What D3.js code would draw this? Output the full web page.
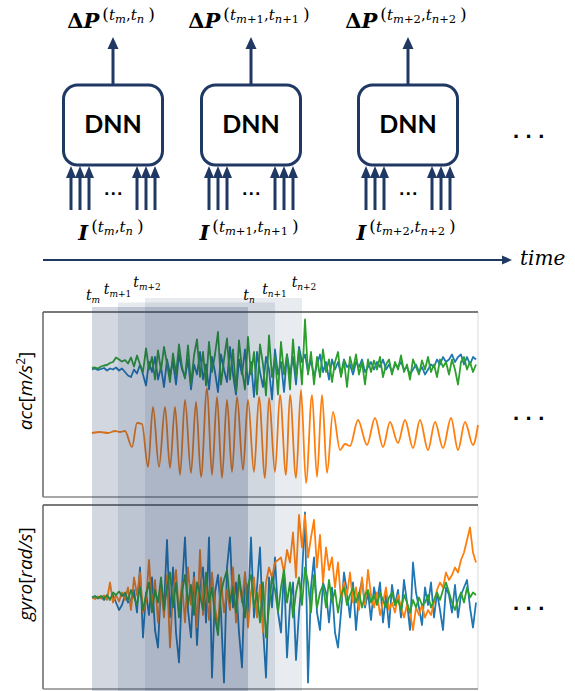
<!DOCTYPE html>
<html>
<head>
<meta charset="utf-8">
<script src="https://cdn.jsdelivr.net/npm/d3@7/dist/d3.min.js"></script>
<style>
  body { margin: 0; background: #fff; }
  svg { display: block; }
</style>
</head>
<body>
<svg id="fig" width="575" height="691"></svg>
<script>
// ---------- data ----------
// sliding windows (t_{m+k}, t_{n+k}), in sample indices
const windowShift = [0, 1, 2];
const windowStart = [0, 26, 53];
const windowEnd = [156, 183, 210];
const bandOpacity = [0.2, 0.11, 0.1];

const sampleStep = 3; // samples of the noisy traces are 3 indices apart

// accelerometer [m/s^2]
const accBlue = [7.0,7.2,6.9,7.1,7.3,6.8,7.2,7.0,7.4,6.8, 7.2,6.5,5.8,5.5,7.0,6.2,8.0,6.0,3.8,8.5,
  6.5,9.5,5.0,7.5,3.5,9.0,6.0,8.5,4.0,10.0, 7.0,5.5,9.0,3.0,8.0,6.0,10.5,5.0,8.0,3.0,
  9.5,6.5,2.5,10.0,7.0,4.5,11.5,6.0,2.0,9.0, 6.0,11.0,4.0,8.5,1.5,10.5,6.5,3.5,9.5,7.0,
  1.0,11.0,6.0,8.5,2.5,10.0,6.0,9.5,4.0,11.5, 8.5,10.0,6.5,9.0,5.5,8.0,10.0,6.5,8.5,5.0,
  9.0,7.0,8.5,6.0,9.0,7.5,8.0,6.0,8.5,7.5, 9.0,6.5,7.5,8.5,7.0,8.5,7.5,9.0,7.0,8.0,
  6.5,8.0,7.5,8.5,7.0,7.5,6.0,7.0,8.0,6.5, 7.5,6.0,7.0,8.0,7.5,9.0,8.0,9.5,8.5,9.0,
  10.0,8.5,9.5,10.0,8.0,9.5,8.0,9.5,9.0];
const accGreen = [7.3,7.4,7.2,7.6,7.8,7.9,8.3,8.5,9.4,9.0, 8.6,8.9,8.2,9.4,7.6,9.8,8.0,6.5,11.2,7.0,
  9.5,5.0,10.8,6.8,11.5,8.2,4.5,10.2,6.0,12.0, 7.5,5.2,11.8,4.0,9.8,13.0,5.5,10.5,3.8,12.5,
  6.5,10.0,14.5,4.0,9.0,13.2,5.0,11.0,2.5,12.8, 7.0,3.0,13.5,6.0,10.5,2.0,12.0,8.0,1.8,13.8,
  5.5,9.5,2.0,12.5,6.0,10.0,3.0,13.0,5.5,11.0, 4.0,17.0,6.0,10.5,4.0,9.5,5.5,11.0,6.5,9.0,
  4.5,8.5,10.5,5.5,8.8,3.5,9.5,7.0,10.0,6.0, 8.5,4.0,9.0,6.5,8.8,7.0,9.5,5.5,8.0,9.0,
  6.0,8.5,7.0,9.8,6.5,8.0,5.0,9.0,7.5,6.0, 8.8,7.0,9.5,6.5,8.0,5.5,9.0,7.5,8.5,6.0,
  9.0,7.0,4.0,8.5,9.5,7.0,8.5,6.5,8.0];
// orange acc trace given by its turning points (sample index, value)
const accOrangeT = [0,8,16,23,28,33,40,45,50,56,61,67,73,78,83,88,93,99,104,109,115,120,125,130,135,
  140,145,151,156,162,167,173,177,183,188,194,198,204,209,214,220,225,230,235,241,248,253,258,266,
  275,283,291,298,306,313,321,328,336,343,351,359,366,373,381,386];
const accOrangeV = [-5.7,-5.5,-5.7,-5.3,-5.5,-5.3,-8.5,-3.7,-3.9,-12.5,-0.5,-12.5,-0.5,-12.7,-0.5,
  -14.1,0.9,-13.7,0.5,-14.5,3.3,-14.1,1.5,-14.7,0.9,-13.5,1.5,-13.1,0.9,-13.5,1.5,-14.7,1.3,-13.5,
  1.9,-14.1,1.9,-14.7,2.9,-15.7,1.9,-14.5,1.9,-13.7,-1.5,-9.1,-7.9,-8.3,-3.1,-8.1,-2.7,-8.5,-3.5,
  -7.7,-3.1,-8.7,-3.1,-9.1,-3.5,-8.7,-2.7,-9.1,-3.5,-8.1,-4.1];

// gyroscope [rad/s]
const gyroBlue = [0.0,0.3,-0.2,0.2,-0.5,0.4,-0.3,0.5,-1.0,-2.5, -1.5,0.5,-1.0,-0.5,1.5,-3.0,6.0,-8.0,1.0,-3.5,
  4.0,-6.5,-10.0,3.0,-2.0,11.5,-4.0,6.0,-7.0,-13.0, 2.0,12.0,-2.5,-8.0,5.0,-9.5,2.0,6.0,-5.0,12.0,
  -16.0,1.0,4.5,-3.0,-17.0,6.0,12.0,-2.0,3.0,-7.0, -14.0,5.0,-3.0,12.0,-4.0,2.0,10.0,-6.0,-16.0,4.0,
  -2.0,8.0,-3.0,-7.0,6.0,-12.0,-1.5,3.0,-12.5,-3.0, 4.0,17.0,-17.0,2.0,8.0,-3.0,-6.5,3.0,1.0,-5.0,
  2.0,-7.0,-10.0,-3.0,5.0,1.0,-4.0,3.0,-6.5,0.5, 3.5,-2.0,1.0,-4.5,2.0,-1.0,3.0,-5.0,0.5,-6.0,
  2.5,-1.5,1.5,-4.0,3.5,-1.0,-6.5,7.0,1.0,-2.0, -5.5,2.0,-1.5,3.0,-4.0,1.0,-2.5,-6.5,2.0,0.5,
  -3.0,2.5,-4.0,0.5,2.0,3.5,-2.0,-6.0,-1.0];
const gyroOrange = [0.0,-0.3,0.2,-0.2,0.4,-0.5,3.0,-1.0,0.5,-0.8, 1.0,-0.5,2.0,-2.5,4.0,0.5,5.0,-3.0,-1.0,7.5,
  -2.0,3.5,-5.0,2.0,-4.0,4.5,-10.0,1.0,5.5,-3.0, 3.0,-5.0,6.0,-1.5,4.0,-6.0,9.5,-3.5,2.5,-4.5,
  5.0,-2.0,-6.0,4.0,-3.0,1.5,-2.5,6.0,-5.0,3.5, -1.0,5.0,-6.0,1.0,4.0,-4.0,2.5,-7.0,3.0,6.0,
  4.0,7.0,7.5,8.0,5.0,9.5,7.0,13.0,4.0,16.5, 10.0,16.5,8.0,12.0,15.5,6.0,12.5,3.0,10.0,5.5,
  8.0,2.0,7.0,-0.5,3.0,0.5,5.0,-1.0,2.0,-2.5, 4.0,-1.5,5.5,0.5,-2.0,1.0,-3.5,-1.0,2.0,-2.5,
  -1.0,-3.0,0.5,-2.0,-4.0,-1.5,-3.0,-6.5,-2.0,-3.5, -1.5,-4.0,-2.5,-3.5,-1.0,1.5,3.0,2.0,5.0,3.5,
  4.5,6.0,5.0,7.5,9.0,11.5,14.0,9.0,7.0];
const gyroGreen = [0.0,0.2,-0.1,0.3,-0.2,0.5,-0.5,1.0,0.5,1.2, 0.3,1.0,-0.5,1.5,0.0,-1.5,2.0,-2.5,0.5,3.0,
  -3.0,1.5,-1.0,4.0,-2.5,2.0,5.0,-2.0,3.0,-4.0, 1.0,4.5,-1.5,2.5,-3.5,3.0,0.5,-2.5,5.0,-1.0,
  2.0,-4.0,-7.5,1.0,3.5,5.5,-1.0,2.0,-3.0,4.5, 0.0,-4.0,2.5,4.5,-2.0,1.0,-5.0,3.0,-8.0,-2.0,
  4.0,1.5,-3.0,2.0,5.5,-1.0,3.0,-4.0,1.0,4.0, -1.5,6.0,3.0,-3.0,4.5,-2.0,1.0,2.5,-2.0,3.5,
  -1.0,1.5,-3.0,0.5,2.0,-1.5,0.5,2.0,-1.0,1.0, -2.0,0.5,1.5,-1.0,0.5,-1.5,1.0,-0.5,-2.0,0.0,
  1.0,-1.5,-0.5,-2.5,0.5,-1.0,-3.0,-0.5,-2.0,0.0, -1.5,-1.0,0.5,-2.0,-0.5,1.0,-0.5,1.5,3.0,1.0,
  -1.0,-2.5,-0.5,1.0,-1.0,2.0,0.0,1.0,0.5];

// ---------- layout ----------
const svg = d3.select("#fig");
const navy = "#1f3864";
const serif = "'DejaVu Serif', serif";
const colors = { blue: "#1f77b4", orange: "#ff7f0e", green: "#2ca02c" };

const boxCentre = [113, 251, 408];
const boxW = 99, boxTop = 85, boxH = 80;

const panel = { left: 43, right: 478 };
const accPanel = { top: 312, bottom: 497 };
const gyroPanel = { top: 505, bottom: 689 };

const x = d3.scaleLinear().domain([0, 386]).range([92, 478]);
const yAcc = d3.scaleLinear().domain([-18.5, 18.5]).range([accPanel.bottom, accPanel.top]);
const yGyro = d3.scaleLinear().domain([-18.5, 18.5]).range([690, 505]);

// ---------- top: DNN windows ----------
function superscript(t, k) {
  const sub = (letter) => {
    t.append("tspan").attr("font-size", 15).attr("font-style", "italic").text("t");
    t.append("tspan").attr("font-size", 11.5).attr("font-style", "italic").attr("dy", 3).text(letter);
    if (k > 0) t.append("tspan").attr("font-size", 11.5).text("+" + k);
  };
  t.append("tspan").attr("font-size", 17).attr("dx", 3).attr("dy", -8).text("(");
  sub("m");
  t.append("tspan").attr("font-size", 15).attr("dy", -3).text(",");
  sub("n");
  t.append("tspan").attr("font-size", 17).attr("dx", 4).attr("dy", -3).text(")");
}

const diagram = svg.append("g");
windowShift.forEach((k, i) => {
  const cx = boxCentre[i];
  diagram.append("rect")
    .attr("x", cx - boxW / 2).attr("y", boxTop)
    .attr("width", boxW).attr("height", boxH)
    .attr("rx", 14).attr("fill", "#fff")
    .attr("stroke", navy).attr("stroke-width", 3);
  diagram.append("text")
    .attr("x", cx).attr("y", boxTop + 48)
    .attr("text-anchor", "middle")
    .attr("font-family", "Lato, 'Liberation Sans', sans-serif")
    .attr("font-weight", "bold").attr("font-size", 25)
    .text("DNN");

  // output arrow
  diagram.append("line")
    .attr("x1", cx).attr("x2", cx).attr("y1", boxTop - 1).attr("y2", 47)
    .attr("stroke", navy).attr("stroke-width", 3);
  diagram.append("path")
    .attr("d", `M${cx},37L${cx - 5.5},49L${cx + 5.5},49Z`).attr("fill", navy);

  // input arrows
  [-42, -33, -24, 24, 33, 42].forEach(dx => {
    diagram.append("line")
      .attr("x1", cx + dx).attr("x2", cx + dx).attr("y1", 210).attr("y2", 176)
      .attr("stroke", navy).attr("stroke-width", 3);
    diagram.append("path")
      .attr("d", `M${cx + dx},166L${cx + dx - 5},178L${cx + dx + 5},178Z`).attr("fill", navy);
  });
  diagram.append("text")
    .attr("x", cx + 1).attr("y", 195).attr("text-anchor", "middle")
    .attr("font-family", "'Liberation Sans', sans-serif").attr("font-weight", "bold")
    .attr("font-size", 18).attr("letter-spacing", 1.5).text("...");

  // ΔP label
  const out = diagram.append("text")
    .attr("x", cx - 2).attr("y", 28).attr("text-anchor", "middle")
    .attr("font-family", serif);
  out.append("tspan").attr("font-size", 21).attr("font-weight", "bold").text("Δ");
  out.append("tspan").attr("font-size", 21).attr("font-weight", "bold").attr("font-style", "italic").text("P");
  superscript(out, k);

  // I label
  const inp = diagram.append("text")
    .attr("x", cx - 2).attr("y", 240).attr("text-anchor", "middle")
    .attr("font-family", serif);
  inp.append("tspan").attr("font-size", 21).attr("font-weight", "bold").attr("font-style", "italic").text("I");
  superscript(inp, k);
});

// "..." markers at the right
function ellipsis(cy) {
  svg.append("text")
    .attr("x", 513).attr("y", cy + 1.5)
    .attr("font-family", "'Liberation Sans', sans-serif").attr("font-weight", "bold")
    .attr("font-size", 22).attr("letter-spacing", 6.5).text("...");
}
ellipsis(136);
ellipsis(418);
ellipsis(608);

// time axis
svg.append("line").attr("x1", 43).attr("x2", 504).attr("y1", 260).attr("y2", 260)
  .attr("stroke", navy).attr("stroke-width", 2);
svg.append("path").attr("d", "M512,260L502,255.5L502,264.5Z").attr("fill", navy);
svg.append("text").attr("x", 520).attr("y", 265)
  .attr("font-family", serif).attr("font-style", "italic").attr("font-size", 20)
  .text("time");

// ---------- bottom: signal panels ----------
[accPanel, gyroPanel].forEach(p => {
  svg.append("line").attr("x1", panel.right).attr("x2", panel.right)
    .attr("y1", p.top).attr("y2", p.bottom).attr("stroke", "#d9d9d9").attr("stroke-width", 1);
  svg.append("line").attr("x1", panel.left).attr("x2", panel.right)
    .attr("y1", p.top).attr("y2", p.top).attr("stroke", "#7a7a7a").attr("stroke-width", 2);
  svg.append("line").attr("x1", panel.left).attr("x2", panel.left)
    .attr("y1", p.top).attr("y2", p.bottom).attr("stroke", "#666").attr("stroke-width", 1.5);
  svg.append("line").attr("x1", panel.left).attr("x2", panel.right)
    .attr("y1", p.bottom).attr("y2", p.bottom).attr("stroke", "#8a8a8a").attr("stroke-width", 1.5);
});

function trace(values, yScale, color) {
  const line = d3.line()
    .x((d, i) => x(i * sampleStep))
    .y(d => yScale(d));
  svg.append("path").datum(values)
    .attr("d", line).attr("fill", "none")
    .attr("stroke", color).attr("stroke-width", 1.8).attr("stroke-linejoin", "round");
}

trace(accBlue, yAcc, colors.blue);
svg.append("path")
  .datum(accOrangeT.map((t, i) => [t, accOrangeV[i]]))
  .attr("d", d3.line().x(d => x(d[0])).y(d => yAcc(d[1])).curve(d3.curveMonotoneX))
  .attr("fill", "none").attr("stroke", colors.orange).attr("stroke-width", 1.8);
trace(accGreen, yAcc, colors.green);

trace(gyroBlue, yGyro, colors.blue);
trace(gyroOrange, yGyro, colors.orange);
trace(gyroGreen, yGyro, colors.green);

// window bands (drawn over the traces)
windowShift.forEach((k, i) => {
  svg.append("rect")
    .attr("x", x(windowStart[i])).attr("width", x(windowEnd[i]) - x(windowStart[i]))
    .attr("y", accPanel.top - 5 - i * 4.5).attr("height", 691)
    .attr("fill", navy).attr("fill-opacity", bandOpacity[i]);
});

// window tick labels
const labelNudge = [1, -0.5, 2];
function tickLabel(xPos, y, letter, k) {
  const t = svg.append("text").attr("x", xPos).attr("y", y)
    .attr("text-anchor", "middle").attr("font-family", serif);
  t.append("tspan").attr("font-size", 14).attr("font-style", "italic").text("t");
  t.append("tspan").attr("font-size", 9).attr("font-style", "italic").attr("dy", 3).text(letter);
  if (k > 0) t.append("tspan").attr("font-size", 9).text("+" + k);
}
windowShift.forEach((k, i) => {
  const y = accPanel.top - 12 - i * 6.5;
  tickLabel(x(windowStart[i]) + labelNudge[i], y, "m", k);
  tickLabel(x(windowEnd[i]) + labelNudge[i], y, "n", k);
});

// y labels
function yLabel(cy, parts) {
  const t = svg.append("text")
    .attr("transform", `translate(32,${cy}) rotate(-90)`)
    .attr("text-anchor", "middle")
    .attr("font-family", "'Open Sans', sans-serif").attr("font-size", 19);
  parts.forEach(p => {
    const s = t.append("tspan").text(p.text);
    if (p.italic) s.attr("font-style", "italic");
    if (p.size) s.attr("font-size", p.size);
    if (p.dy) s.attr("dy", p.dy);
  });
}
yLabel(391, [
  { text: "acc", italic: true }, { text: "[" }, { text: "m/s", italic: true },
  { text: "2", size: 12, dy: -7 }, { text: "]", dy: 7 }
]);
yLabel(574, [
  { text: "gyro", italic: true }, { text: "[" }, { text: "rad/s", italic: true }, { text: "]" }
]);
</script>
</body>
</html>
